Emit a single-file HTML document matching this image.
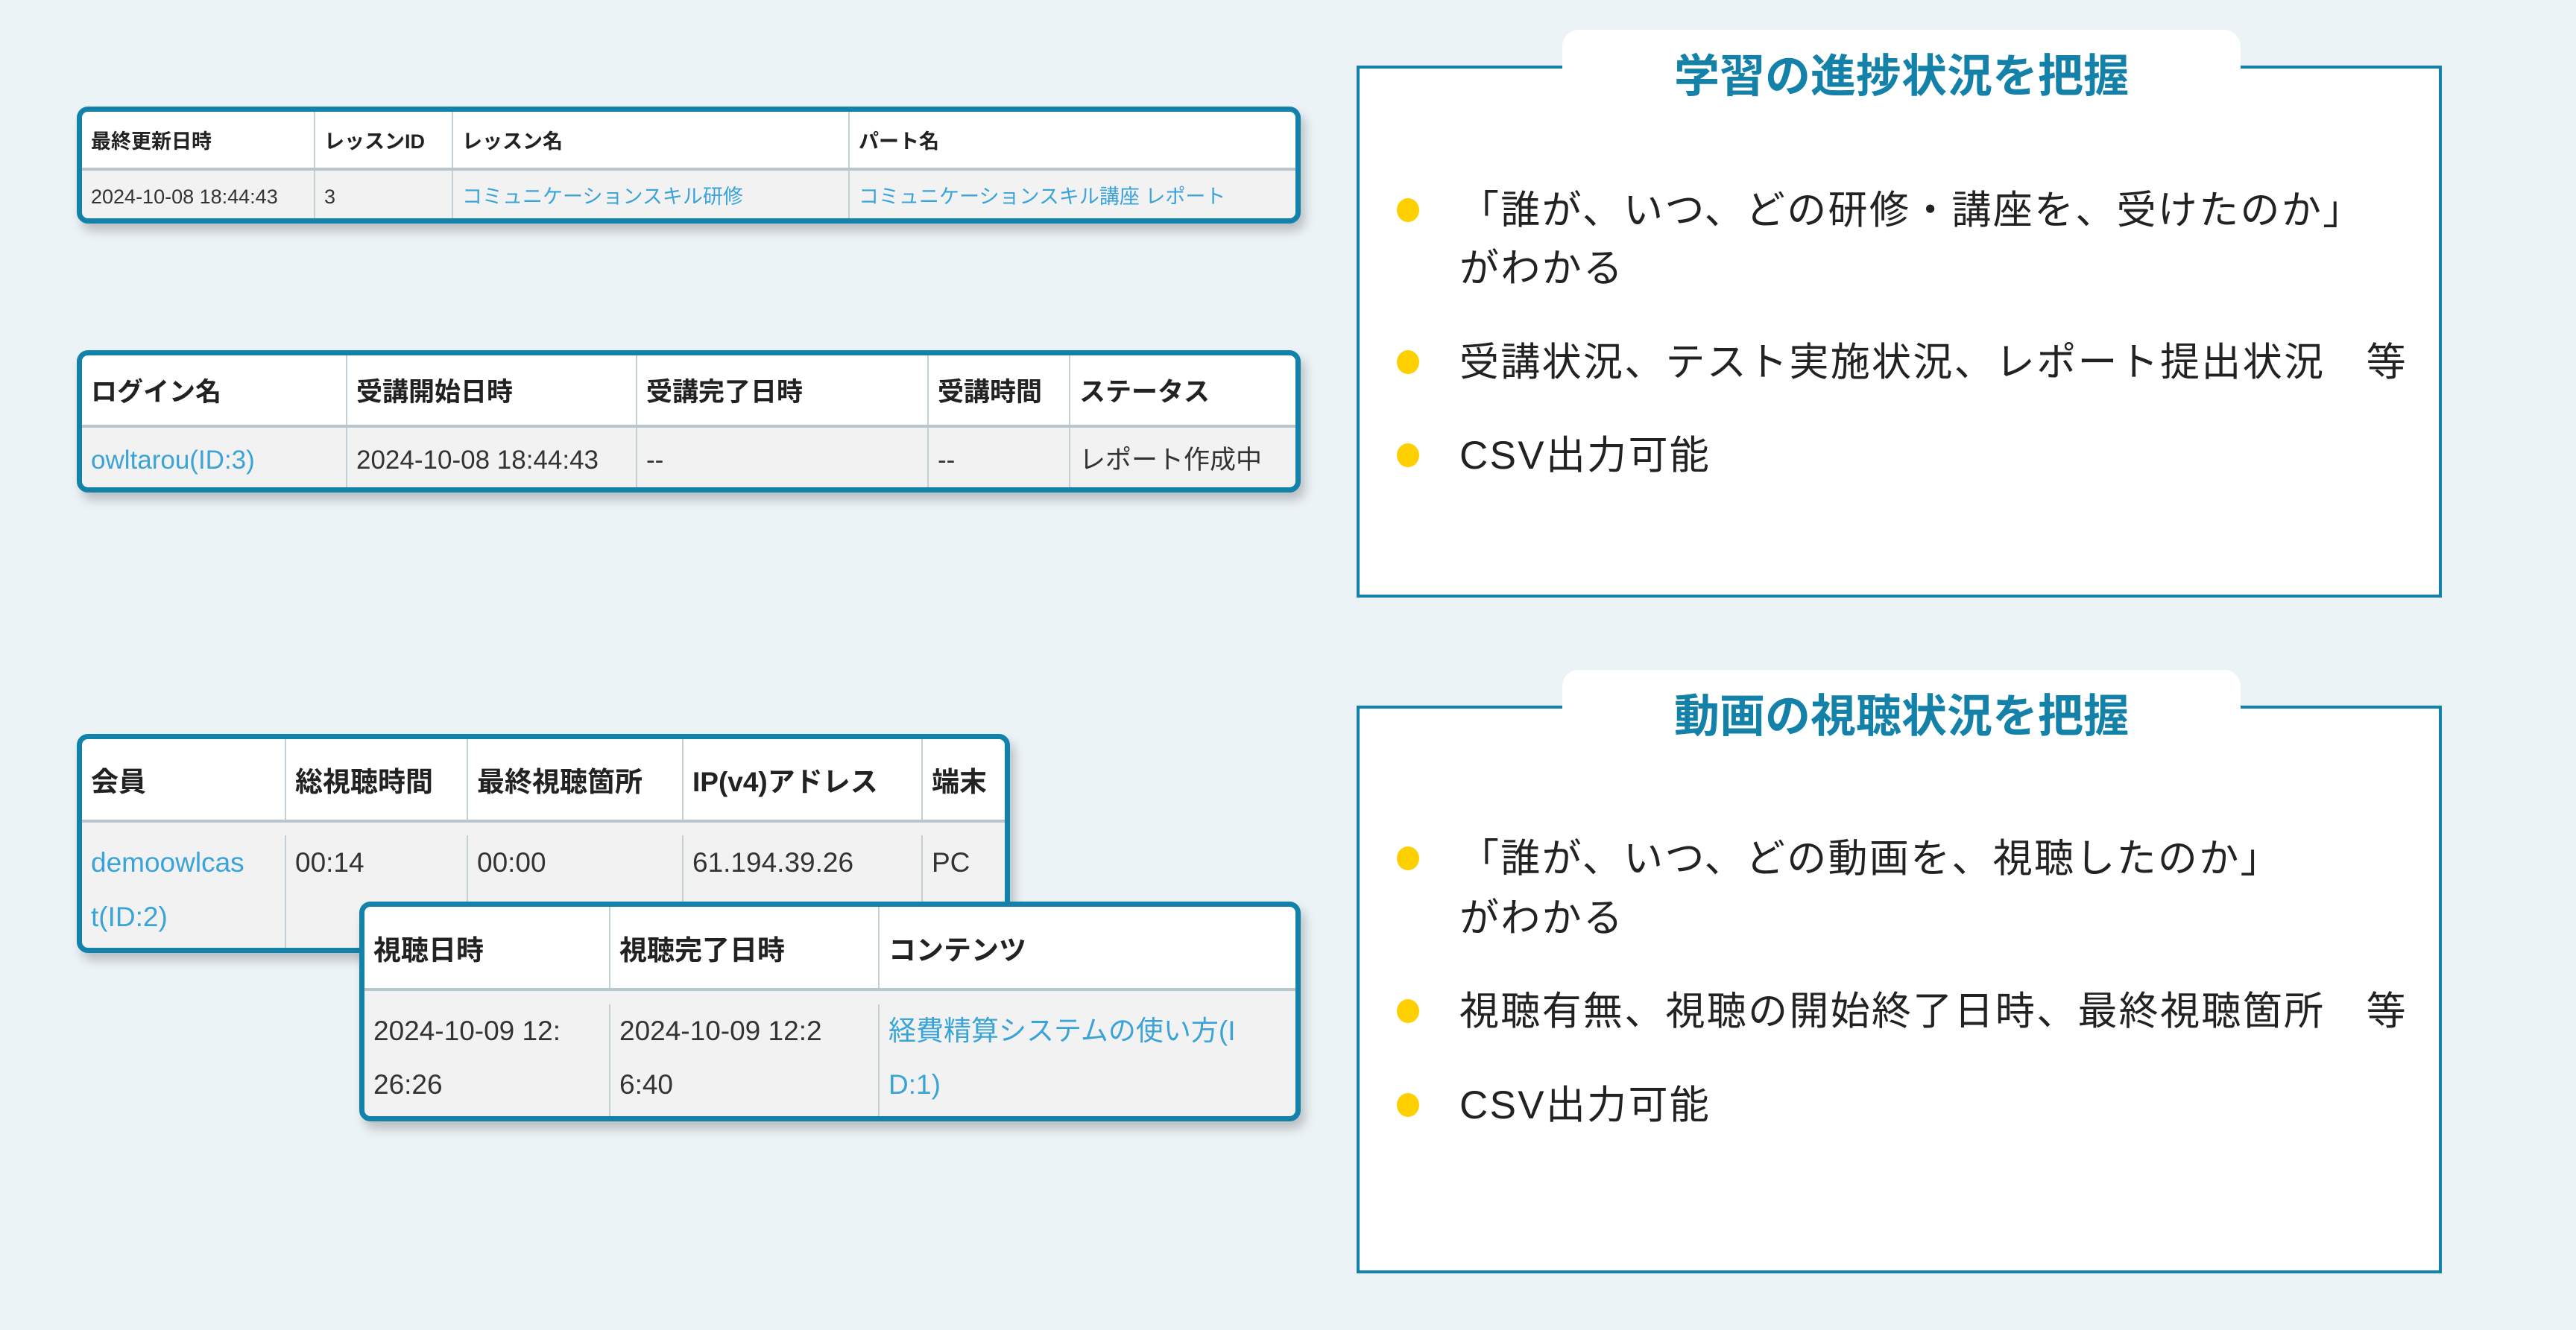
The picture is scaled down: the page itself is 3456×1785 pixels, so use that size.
<!DOCTYPE html>
<html><head><meta charset="utf-8">
<style>
*{margin:0;padding:0;box-sizing:border-box}
body{width:3456px;height:1785px;background:#ecf3f7;position:relative;overflow:hidden;font-family:"Liberation Sans","Noto Sans CJK JP",sans-serif;color:#333}
.tb{position:absolute;border:7px solid #1282ab;border-radius:15px;background:#f2f2f2;box-shadow:6px 10px 14px rgba(0,0,0,0.22);overflow:hidden}
.row{position:absolute;left:0;right:0;display:grid}
.row>div{border-left:2px solid #c5d0d6;padding-left:12px;white-space:nowrap;overflow:hidden}
.row>div:first-child{border-left:none}
.hd{background:#fff;font-weight:bold;color:#222;border-bottom:4px solid #b9c6cd}
.hd>div{display:flex;align-items:center}
.lk{color:#3aa3d8}
.panel{position:absolute;left:1820px;width:1456px;border:4px solid #1282ab;background:#fff}
.tab{position:absolute;left:272px;top:-52px;width:910px;height:120px;background:#fff;border-radius:22px 22px 0 0;text-align:center;font-weight:bold;font-size:61px;color:#1481a8;line-height:114px;font-family:"Noto Sans CJK JP",sans-serif}
.bl{position:absolute;left:50px;width:30px;height:32px;border-radius:50%;background:#ffd000}
.tx{position:absolute;left:134px;font-size:53px;line-height:78px;color:#222;white-space:nowrap;letter-spacing:2.3px}
</style></head><body>

<!-- Table 1 -->
<div class="tb" style="left:103px;top:143px;width:1642px;height:157px;font-size:27px">
 <div class="row hd" style="top:0;height:79px;grid-template-columns:311px 185px 532px 1fr"><div>最終更新日時</div><div>レッスンID</div><div>レッスン名</div><div>パート名</div></div>
 <div class="row" style="top:79px;height:71px;grid-template-columns:311px 185px 532px 1fr;line-height:71px"><div>2024-10-08 18:44:43</div><div>3</div><div class="lk">コミュニケーションスキル研修</div><div class="lk">コミュニケーションスキル講座 レポート</div></div>
</div>

<!-- Table 2 -->
<div class="tb" style="left:103px;top:470px;width:1642px;height:191px;font-size:35px">
 <div class="row hd" style="top:0;height:97px;grid-template-columns:354px 389px 391px 190px 1fr"><div>ログイン名</div><div>受講開始日時</div><div>受講完了日時</div><div>受講時間</div><div>ステータス</div></div>
 <div class="row" style="top:97px;height:90px;grid-template-columns:354px 389px 391px 190px 1fr;line-height:88px"><div class="lk">owltarou(ID:3)</div><div>2024-10-08 18:44:43</div><div>--</div><div>--</div><div>レポート作成中</div></div>
</div>

<!-- Table 3 -->
<div class="tb" style="left:103px;top:985px;width:1252px;height:294px;font-size:37px">
 <div class="row hd" style="top:0;height:112px;grid-template-columns:272px 244px 289px 321px 1fr"><div>会員</div><div>総視聴時間</div><div>最終視聴箇所</div><div>IP(v4)アドレス</div><div>端末</div></div>
 <div class="row" style="top:112px;height:180px;grid-template-columns:272px 244px 289px 321px 1fr;line-height:73px;padding-top:17px"><div class="lk">demoowlcas<br>t(ID:2)</div><div>00:14</div><div>00:00</div><div>61.194.39.26</div><div>PC</div></div>
</div>

<!-- Table 4 -->
<div class="tb" style="left:482px;top:1210px;width:1263px;height:295px;font-size:37px">
 <div class="row hd" style="top:0;height:113px;grid-template-columns:328px 361px 1fr"><div>視聴日時</div><div>視聴完了日時</div><div>コンテンツ</div></div>
 <div class="row" style="top:113px;height:180px;grid-template-columns:328px 361px 1fr;line-height:72px;padding-top:18px"><div>2024-10-09 12:<br>26:26</div><div>2024-10-09 12:2<br>6:40</div><div class="lk">経費精算システムの使い方(I<br>D:1)</div></div>
</div>

<!-- Panel 1 -->
<div class="panel" style="top:88px;height:714px">
 <div class="tab">学習の進捗状況を把握</div>
 <div class="bl" style="top:174px"></div>
 <div class="tx" style="top:152px">「誰が、いつ、どの研修・講座を、受けたのか」</div>
 <div class="tx" style="top:230px">がわかる</div>
 <div class="bl" style="top:378px"></div>
 <div class="tx" style="top:356px">受講状況、テスト実施状況、レポート提出状況　等</div>
 <div class="bl" style="top:503px"></div>
 <div class="tx" style="top:481px">CSV出力可能</div>
</div>

<!-- Panel 2 -->
<div class="panel" style="top:947px;height:762px">
 <div class="tab">動画の視聴状況を把握</div>
 <div class="bl" style="top:185px"></div>
 <div class="tx" style="top:163px">「誰が、いつ、どの動画を、視聴したのか」</div>
 <div class="tx" style="top:243px">がわかる</div>
 <div class="bl" style="top:390px"></div>
 <div class="tx" style="top:368px">視聴有無、視聴の開始終了日時、最終視聴箇所　等</div>
 <div class="bl" style="top:516px"></div>
 <div class="tx" style="top:494px">CSV出力可能</div>
</div>

</body></html>
